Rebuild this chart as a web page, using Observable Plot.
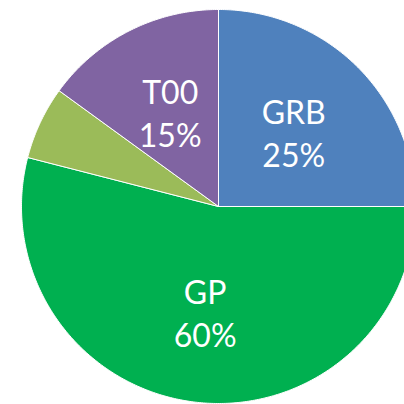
<!DOCTYPE html>
<html>
<head>
<meta charset="utf-8">
<script src="https://cdn.jsdelivr.net/npm/d3@7"></script>
<script src="https://cdn.jsdelivr.net/npm/@observablehq/plot@0.6"></script>
<style>
  html, body { margin: 0; padding: 0; background: #ffffff; }
  #chart { width: 404px; height: 404px; overflow: hidden; }
</style>
</head>
<body>
<div id="chart"></div>
<script>
// Data (slices clockwise from 12 o'clock)
const categories = ["GRB", "GP", "Other", "T00"];
const values = [25, 54, 6, 15];
const labels = ["GRB\n25%", "GP\n60%", "", "T00\n15%"];
const colors = ["#4F81BD", "#00B050", "#9BBB59", "#8064A2"];

const W = 404, H = 404;
const cx = 218, cy = 206, R = 197;

const pie = d3.pie().sort(null).value(d => d.value)
  .startAngle(0).endAngle(2 * Math.PI);
const rows = categories.map((c, i) => ({name: c, value: values[i], label: labels[i]}));
const arcs = pie(rows);

// polygon outlines of slices in unit-circle coordinates
const poly = [];
arcs.forEach(a => {
  const n = Math.max(2, Math.ceil((a.endAngle - a.startAngle) / 0.01));
  poly.push({name: a.data.name, x: 0, y: 0});
  for (let k = 0; k <= n; k++) {
    const t = a.startAngle + (a.endAngle - a.startAngle) * k / n;
    poly.push({name: a.data.name, x: Math.sin(t), y: Math.cos(t)});
  }
  poly.push({name: a.data.name, x: 0, y: 0});
});

const labelR = 0.54;
const labelRows = arcs.filter(a => a.data.label).map(a => {
  const m = (a.startAngle + a.endAngle) / 2;
  return {label: a.data.label, x: labelR * Math.sin(m), y: labelR * Math.cos(m)};
});

const chart = Plot.plot({
  width: W,
  height: H,
  margin: 0,
  x: {domain: [-cx / R, (W - cx) / R], axis: null},
  y: {domain: [(cy - H) / R, cy / R], axis: null},
  color: {domain: categories, range: colors},
  marks: [
    Plot.line(poly, {x: "x", y: "y", z: "name", fill: "name", stroke: "#ffffff", strokeWidth: 1, curve: "linear"}),
    Plot.text(labelRows, {
      x: "x", y: "y", text: "label",
      fill: "#ffffff",
      fontSize: 32,
      lineHeight: 1.35,
      fontFamily: "Lato, 'Open Sans', sans-serif"
    })
  ]
});
document.getElementById("chart").appendChild(chart);
</script>
</body>
</html>
